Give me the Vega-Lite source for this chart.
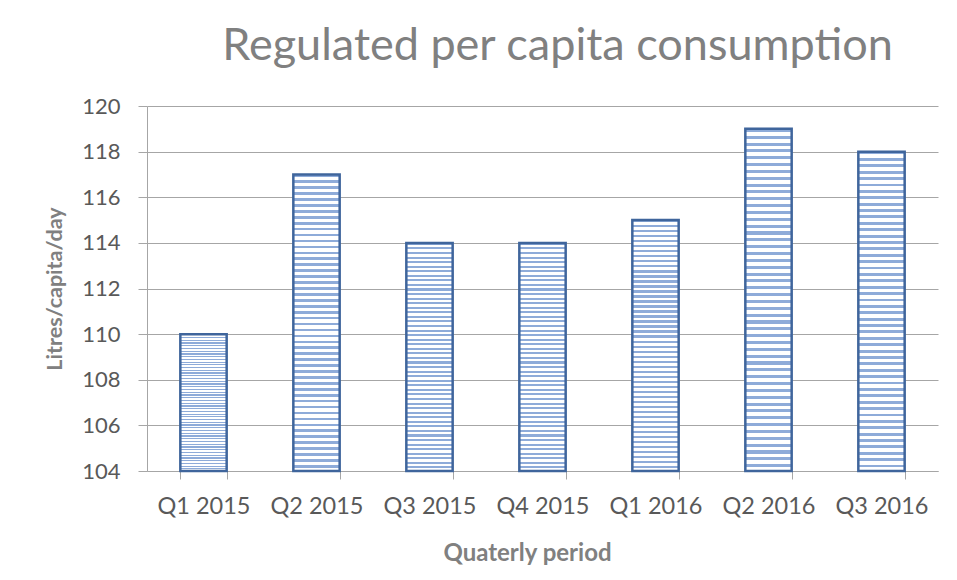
{
  "$schema": "https://vega.github.io/schema/vega-lite/v6.json",
  "autosize": "none",
  "width": 791,
  "height": 365,
  "padding": {"left": 147, "top": 106, "right": 19, "bottom": 109},
  "background": "white",
  "config": {
    "font": "Lato",
    "view": {"stroke": null}
  },
  "title": {
    "text": "Regulated per capita consumption",
    "font": "Lato",
    "fontSize": 45,
    "fontWeight": "normal",
    "color": "#808080",
    "anchor": "middle",
    "dx": 15,
    "baseline": "alphabetic",
    "offset": -10
  },
  "data": {
    "values": [
      {"period": "Q1 2015", "value": 110},
      {"period": "Q2 2015", "value": 117},
      {"period": "Q3 2015", "value": 114},
      {"period": "Q4 2015", "value": 114},
      {"period": "Q1 2016", "value": 115},
      {"period": "Q2 2016", "value": 119},
      {"period": "Q3 2016", "value": 118}
    ]
  },
  "mark": {
    "type": "bar",
    "stroke": "#3f659c",
    "strokeWidth": 2.5,
    "fill": {
      "gradient": "linear",
      "x1": 0, "y1": 0, "x2": 0, "y2": 1,
      "stops": [
        {"offset": 0, "color": "#8eabd9"}, {"offset": 0.009, "color": "#8eabd9"}, {"offset": 0.009, "color": "#ffffff"}, {"offset": 0.02, "color": "#ffffff"},
        {"offset": 0.02, "color": "#8eabd9"}, {"offset": 0.029, "color": "#8eabd9"}, {"offset": 0.029, "color": "#ffffff"}, {"offset": 0.04, "color": "#ffffff"},
        {"offset": 0.04, "color": "#8eabd9"}, {"offset": 0.049, "color": "#8eabd9"}, {"offset": 0.049, "color": "#ffffff"}, {"offset": 0.06, "color": "#ffffff"},
        {"offset": 0.06, "color": "#8eabd9"}, {"offset": 0.069, "color": "#8eabd9"}, {"offset": 0.069, "color": "#ffffff"}, {"offset": 0.08, "color": "#ffffff"},
        {"offset": 0.08, "color": "#8eabd9"}, {"offset": 0.089, "color": "#8eabd9"}, {"offset": 0.089, "color": "#ffffff"}, {"offset": 0.1, "color": "#ffffff"},
        {"offset": 0.1, "color": "#8eabd9"}, {"offset": 0.109, "color": "#8eabd9"}, {"offset": 0.109, "color": "#ffffff"}, {"offset": 0.12, "color": "#ffffff"},
        {"offset": 0.12, "color": "#8eabd9"}, {"offset": 0.129, "color": "#8eabd9"}, {"offset": 0.129, "color": "#ffffff"}, {"offset": 0.14, "color": "#ffffff"},
        {"offset": 0.14, "color": "#8eabd9"}, {"offset": 0.149, "color": "#8eabd9"}, {"offset": 0.149, "color": "#ffffff"}, {"offset": 0.16, "color": "#ffffff"},
        {"offset": 0.16, "color": "#8eabd9"}, {"offset": 0.169, "color": "#8eabd9"}, {"offset": 0.169, "color": "#ffffff"}, {"offset": 0.18, "color": "#ffffff"},
        {"offset": 0.18, "color": "#8eabd9"}, {"offset": 0.189, "color": "#8eabd9"}, {"offset": 0.189, "color": "#ffffff"}, {"offset": 0.2, "color": "#ffffff"},
        {"offset": 0.2, "color": "#8eabd9"}, {"offset": 0.209, "color": "#8eabd9"}, {"offset": 0.209, "color": "#ffffff"}, {"offset": 0.22, "color": "#ffffff"},
        {"offset": 0.22, "color": "#8eabd9"}, {"offset": 0.229, "color": "#8eabd9"}, {"offset": 0.229, "color": "#ffffff"}, {"offset": 0.24, "color": "#ffffff"},
        {"offset": 0.24, "color": "#8eabd9"}, {"offset": 0.249, "color": "#8eabd9"}, {"offset": 0.249, "color": "#ffffff"}, {"offset": 0.26, "color": "#ffffff"},
        {"offset": 0.26, "color": "#8eabd9"}, {"offset": 0.269, "color": "#8eabd9"}, {"offset": 0.269, "color": "#ffffff"}, {"offset": 0.28, "color": "#ffffff"},
        {"offset": 0.28, "color": "#8eabd9"}, {"offset": 0.289, "color": "#8eabd9"}, {"offset": 0.289, "color": "#ffffff"}, {"offset": 0.3, "color": "#ffffff"},
        {"offset": 0.3, "color": "#8eabd9"}, {"offset": 0.309, "color": "#8eabd9"}, {"offset": 0.309, "color": "#ffffff"}, {"offset": 0.32, "color": "#ffffff"},
        {"offset": 0.32, "color": "#8eabd9"}, {"offset": 0.329, "color": "#8eabd9"}, {"offset": 0.329, "color": "#ffffff"}, {"offset": 0.34, "color": "#ffffff"},
        {"offset": 0.34, "color": "#8eabd9"}, {"offset": 0.349, "color": "#8eabd9"}, {"offset": 0.349, "color": "#ffffff"}, {"offset": 0.36, "color": "#ffffff"},
        {"offset": 0.36, "color": "#8eabd9"}, {"offset": 0.369, "color": "#8eabd9"}, {"offset": 0.369, "color": "#ffffff"}, {"offset": 0.38, "color": "#ffffff"},
        {"offset": 0.38, "color": "#8eabd9"}, {"offset": 0.389, "color": "#8eabd9"}, {"offset": 0.389, "color": "#ffffff"}, {"offset": 0.4, "color": "#ffffff"},
        {"offset": 0.4, "color": "#8eabd9"}, {"offset": 0.409, "color": "#8eabd9"}, {"offset": 0.409, "color": "#ffffff"}, {"offset": 0.42, "color": "#ffffff"},
        {"offset": 0.42, "color": "#8eabd9"}, {"offset": 0.429, "color": "#8eabd9"}, {"offset": 0.429, "color": "#ffffff"}, {"offset": 0.44, "color": "#ffffff"},
        {"offset": 0.44, "color": "#8eabd9"}, {"offset": 0.449, "color": "#8eabd9"}, {"offset": 0.449, "color": "#ffffff"}, {"offset": 0.46, "color": "#ffffff"},
        {"offset": 0.46, "color": "#8eabd9"}, {"offset": 0.469, "color": "#8eabd9"}, {"offset": 0.469, "color": "#ffffff"}, {"offset": 0.48, "color": "#ffffff"},
        {"offset": 0.48, "color": "#8eabd9"}, {"offset": 0.489, "color": "#8eabd9"}, {"offset": 0.489, "color": "#ffffff"}, {"offset": 0.5, "color": "#ffffff"},
        {"offset": 0.5, "color": "#8eabd9"}, {"offset": 0.509, "color": "#8eabd9"}, {"offset": 0.509, "color": "#ffffff"}, {"offset": 0.52, "color": "#ffffff"},
        {"offset": 0.52, "color": "#8eabd9"}, {"offset": 0.529, "color": "#8eabd9"}, {"offset": 0.529, "color": "#ffffff"}, {"offset": 0.54, "color": "#ffffff"},
        {"offset": 0.54, "color": "#8eabd9"}, {"offset": 0.549, "color": "#8eabd9"}, {"offset": 0.549, "color": "#ffffff"}, {"offset": 0.56, "color": "#ffffff"},
        {"offset": 0.56, "color": "#8eabd9"}, {"offset": 0.569, "color": "#8eabd9"}, {"offset": 0.569, "color": "#ffffff"}, {"offset": 0.58, "color": "#ffffff"},
        {"offset": 0.58, "color": "#8eabd9"}, {"offset": 0.589, "color": "#8eabd9"}, {"offset": 0.589, "color": "#ffffff"}, {"offset": 0.6, "color": "#ffffff"},
        {"offset": 0.6, "color": "#8eabd9"}, {"offset": 0.609, "color": "#8eabd9"}, {"offset": 0.609, "color": "#ffffff"}, {"offset": 0.62, "color": "#ffffff"},
        {"offset": 0.62, "color": "#8eabd9"}, {"offset": 0.629, "color": "#8eabd9"}, {"offset": 0.629, "color": "#ffffff"}, {"offset": 0.64, "color": "#ffffff"},
        {"offset": 0.64, "color": "#8eabd9"}, {"offset": 0.649, "color": "#8eabd9"}, {"offset": 0.649, "color": "#ffffff"}, {"offset": 0.66, "color": "#ffffff"},
        {"offset": 0.66, "color": "#8eabd9"}, {"offset": 0.669, "color": "#8eabd9"}, {"offset": 0.669, "color": "#ffffff"}, {"offset": 0.68, "color": "#ffffff"},
        {"offset": 0.68, "color": "#8eabd9"}, {"offset": 0.689, "color": "#8eabd9"}, {"offset": 0.689, "color": "#ffffff"}, {"offset": 0.7, "color": "#ffffff"},
        {"offset": 0.7, "color": "#8eabd9"}, {"offset": 0.709, "color": "#8eabd9"}, {"offset": 0.709, "color": "#ffffff"}, {"offset": 0.72, "color": "#ffffff"},
        {"offset": 0.72, "color": "#8eabd9"}, {"offset": 0.729, "color": "#8eabd9"}, {"offset": 0.729, "color": "#ffffff"}, {"offset": 0.74, "color": "#ffffff"},
        {"offset": 0.74, "color": "#8eabd9"}, {"offset": 0.749, "color": "#8eabd9"}, {"offset": 0.749, "color": "#ffffff"}, {"offset": 0.76, "color": "#ffffff"},
        {"offset": 0.76, "color": "#8eabd9"}, {"offset": 0.769, "color": "#8eabd9"}, {"offset": 0.769, "color": "#ffffff"}, {"offset": 0.78, "color": "#ffffff"},
        {"offset": 0.78, "color": "#8eabd9"}, {"offset": 0.789, "color": "#8eabd9"}, {"offset": 0.789, "color": "#ffffff"}, {"offset": 0.8, "color": "#ffffff"},
        {"offset": 0.8, "color": "#8eabd9"}, {"offset": 0.809, "color": "#8eabd9"}, {"offset": 0.809, "color": "#ffffff"}, {"offset": 0.82, "color": "#ffffff"},
        {"offset": 0.82, "color": "#8eabd9"}, {"offset": 0.829, "color": "#8eabd9"}, {"offset": 0.829, "color": "#ffffff"}, {"offset": 0.84, "color": "#ffffff"},
        {"offset": 0.84, "color": "#8eabd9"}, {"offset": 0.849, "color": "#8eabd9"}, {"offset": 0.849, "color": "#ffffff"}, {"offset": 0.86, "color": "#ffffff"},
        {"offset": 0.86, "color": "#8eabd9"}, {"offset": 0.869, "color": "#8eabd9"}, {"offset": 0.869, "color": "#ffffff"}, {"offset": 0.88, "color": "#ffffff"},
        {"offset": 0.88, "color": "#8eabd9"}, {"offset": 0.889, "color": "#8eabd9"}, {"offset": 0.889, "color": "#ffffff"}, {"offset": 0.9, "color": "#ffffff"},
        {"offset": 0.9, "color": "#8eabd9"}, {"offset": 0.909, "color": "#8eabd9"}, {"offset": 0.909, "color": "#ffffff"}, {"offset": 0.92, "color": "#ffffff"},
        {"offset": 0.92, "color": "#8eabd9"}, {"offset": 0.929, "color": "#8eabd9"}, {"offset": 0.929, "color": "#ffffff"}, {"offset": 0.94, "color": "#ffffff"},
        {"offset": 0.94, "color": "#8eabd9"}, {"offset": 0.949, "color": "#8eabd9"}, {"offset": 0.949, "color": "#ffffff"}, {"offset": 0.96, "color": "#ffffff"},
        {"offset": 0.96, "color": "#8eabd9"}, {"offset": 0.969, "color": "#8eabd9"}, {"offset": 0.969, "color": "#ffffff"}, {"offset": 0.98, "color": "#ffffff"},
        {"offset": 0.98, "color": "#8eabd9"}, {"offset": 0.989, "color": "#8eabd9"}, {"offset": 0.989, "color": "#ffffff"}, {"offset": 1, "color": "#ffffff"}
      ]
    }
  },
  "encoding": {
    "x": {
      "field": "period",
      "type": "nominal",
      "sort": null,
      "scale": {"paddingInner": 0.59, "paddingOuter": 0.295},
      "axis": {
        "title": "Quaterly period",
        "titleFont": "Lato",
        "titleFontSize": 24,
        "titleFontWeight": "bold",
        "titleColor": "#808080",
        "titlePadding": 24,
        "titleX": 380,
        "titleAlign": "center",
        "labelFont": "Lato",
        "labelFontSize": 23.5,
        "labelColor": "#595959",
        "labelAngle": 0,
        "labelPadding": 15,
        "tickBand": "extent",
        "tickSize": 8,
        "tickColor": "#a6a6a6",
        "domainColor": "#a6a6a6",
        "grid": false
      }
    },
    "y": {
      "field": "value",
      "type": "quantitative",
      "scale": {"domain": [104, 120], "zero": false, "nice": false},
      "axis": {
        "title": "Litres/capita/day",
        "titleFont": "Lato",
        "titleFontSize": 21.5,
        "titleFontWeight": "bold",
        "titleColor": "#808080",
        "titlePadding": 15,
        "values": [104, 106, 108, 110, 112, 114, 116, 118, 120],
        "labelFont": "Lato",
        "labelFontSize": 22,
        "labelColor": "#595959",
        "labelPadding": 18,
        "tickSize": 9,
        "tickColor": "#a6a6a6",
        "domainColor": "#a6a6a6",
        "grid": true,
        "gridColor": "#a6a6a6",
        "gridWidth": 1
      }
    },
    "y2": {"datum": 104}
  }
}
